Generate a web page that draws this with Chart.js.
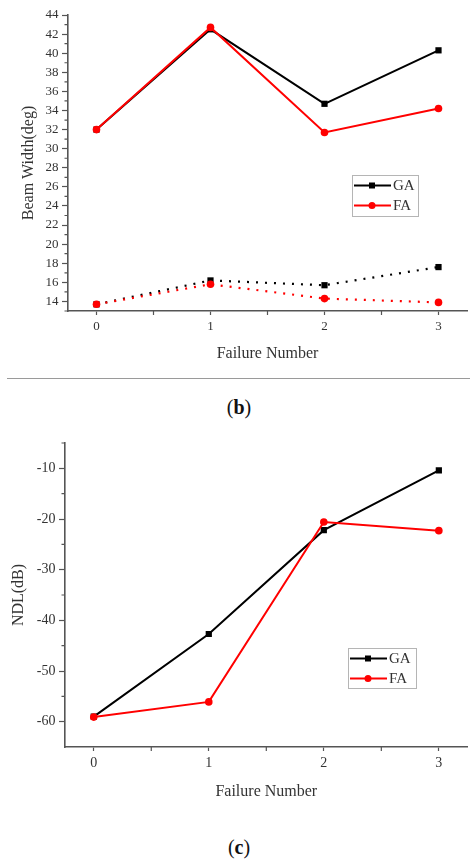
<!DOCTYPE html>
<html>
<head>
<meta charset="utf-8">
<script src="https://cdn.jsdelivr.net/npm/chart.js@4.4.1/dist/chart.umd.min.js"></script>
<style>
  body { margin: 0; background: #fff; width: 472px; height: 863px; position: relative; overflow: hidden; font-family: "Liberation Serif", serif; }
  .box { position: absolute; left: 0; width: 472px; }
  #boxB { top: 0; height: 370px; }
  #boxC { top: 425px; height: 390px; }
  .rule { position: absolute; left: 7px; width: 463px; top: 378px; border-top: 1px solid #9a9a9a; }
  .cap { position: absolute; left: 3px; width: 472px; text-align: center; font-size: 20px; color: #111; }
</style>
</head>
<body>
<div class="box" id="boxB"><canvas id="chartB"></canvas></div>
<div class="rule"></div>
<div class="cap" style="top:396px">(<b>b</b>)</div>
<div class="box" id="boxC"><canvas id="chartC"></canvas></div>
<div class="cap" style="top:836px">(<b>c</b>)</div>
<script>
// values
const failureNumbers = [0, 1, 2, 3];

// (b) beam width, deg
const beamGA = [32.0, 42.5, 34.7, 40.3];
const beamFA = [32.0, 42.7, 31.7, 34.2];
const beamGADotted = [13.7, 16.2, 15.7, 17.6];
const beamFADotted = [13.7, 15.8, 14.3, 13.9];
const beamTickLabels = [14, 16, 18, 20, 22, 24, 26, 28, 30, 32, 34, 36, 38, 40, 42, 44];

// (c) NDL, dB
const ndlGA = [-59.0, -42.7, -22.2, -10.4];
const ndlFA = [-59.1, -56.1, -20.6, -22.3];
const ndlTickLabels = [-60, -50, -40, -30, -20, -10];

const xTickLabels = [0, 1, 2, 3];

const axisGray = '#555';
const textGray = '#333';
const serif = '"Liberation Serif", "Times New Roman", serif';

function pts(ys) {
  return failureNumbers.map((x, i) => ({ x: x, y: ys[i] }));
}

// minor ticks halfway between each pair of majors
function minorsOf(majors) {
  const out = [];
  for (let i = 0; i < majors.length - 1; i++) out.push((majors[i] + majors[i + 1]) / 2);
  return out;
}

function series(label, data, color, style, dotted, order) {
  return {
    label: label,
    data: pts(data),
    borderColor: color,
    backgroundColor: color,
    borderWidth: dotted ? 2.2 : 2,
    borderDash: dotted ? [2, 7] : [],
    pointStyle: style,
    pointRadius: style === 'rect' ? 4.4 : 3.8,
    pointBorderWidth: 0,
    showInLegend: !dotted,
    order: order,
    tension: 0
  };
}

// short outward minor ticks on both axes
const minorTicks = {
  id: 'minorTicks',
  afterDraw(chart, args, opts) {
    const ctx = chart.ctx;
    const xs = chart.scales.x, ys = chart.scales.y;
    ctx.save();
    ctx.strokeStyle = axisGray;
    ctx.lineWidth = 1.2;
    ctx.beginPath();
    opts.x.forEach(v => {
      const px = xs.getPixelForValue(v);
      ctx.moveTo(px, xs.top);
      ctx.lineTo(px, xs.top + 4);
    });
    opts.y.forEach(v => {
      const py = ys.getPixelForValue(v);
      ctx.moveTo(ys.right, py);
      ctx.lineTo(ys.right - 3.5, py);
    });
    ctx.stroke();
    ctx.restore();
  }
};

const boxLegend = {
  id: 'boxLegend',
  afterDatasetsDraw(chart, args, opts) {
    const ctx = chart.ctx;
    const items = chart.data.datasets.filter(d => d.showInLegend);
    ctx.save();
    ctx.fillStyle = '#fff';
    ctx.fillRect(opts.x, opts.y, opts.w, opts.h);
    ctx.strokeStyle = '#b5b5b5';
    ctx.lineWidth = 1;
    ctx.strokeRect(opts.x + 0.5, opts.y + 0.5, opts.w, opts.h);
    items.forEach((d, i) => {
      const y = opts.y + 10.5 + i * 20;
      ctx.strokeStyle = d.borderColor;
      ctx.lineWidth = 2;
      ctx.beginPath();
      ctx.moveTo(opts.x + 2, y);
      ctx.lineTo(opts.x + 39, y);
      ctx.stroke();
      ctx.fillStyle = d.borderColor;
      if (d.pointStyle === 'rect') {
        ctx.fillRect(opts.x + 17, y - 3, 6, 6);
      } else {
        ctx.beginPath();
        ctx.arc(opts.x + 20, y, 3.5, 0, Math.PI * 2);
        ctx.fill();
      }
      ctx.fillStyle = textGray;
      ctx.font = '15px ' + serif;
      ctx.textBaseline = 'middle';
      ctx.fillText(d.label, opts.x + 41, y + 1);
    });
    ctx.restore();
  }
};

function makeChart(id, cfg) {
  return new Chart(document.getElementById(id), {
    type: 'line',
    data: { datasets: cfg.datasets },
    plugins: [boxLegend, minorTicks],
    options: {
      responsive: true,
      maintainAspectRatio: false,
      animation: false,
      layout: { padding: { left: 0, right: cfg.padRight, top: cfg.padTop, bottom: 0 } },
      plugins: {
        legend: { display: false },
        tooltip: { enabled: false },
        boxLegend: cfg.legend,
        minorTicks: { x: minorsOf(xTickLabels), y: cfg.yMinors }
      },
      scales: {
        x: {
          type: 'linear',
          min: -0.25,
          max: 3.25,
          afterBuildTicks: s => { s.ticks = xTickLabels.map(v => ({ value: v })); },
          afterFit: s => { s.height = cfg.xHeight; },
          ticks: {
            autoSkip: false,
            maxRotation: 0,
            padding: 4,
            color: textGray,
            font: { family: serif, size: cfg.tickSize }
          },
          grid: { drawOnChartArea: false, drawTicks: true, tickLength: 4, tickColor: axisGray, tickWidth: 1.2 },
          border: { display: true, color: axisGray, width: 1.6 },
          title: {
            display: true,
            text: 'Failure Number',
            color: textGray,
            font: { family: serif, size: 16 },
            padding: { top: 0, bottom: cfg.xTitlePad }
          }
        },
        y: {
          type: 'linear',
          min: cfg.yMin,
          max: cfg.yMax,
          afterBuildTicks: s => { s.ticks = cfg.yLabels.map(v => ({ value: v })); },
          afterFit: s => { s.width = cfg.yWidth; },
          ticks: {
            autoSkip: false,
            padding: 3.5,
            color: textGray,
            font: { family: serif, size: cfg.tickSize }
          },
          grid: { drawOnChartArea: false, drawTicks: true, tickLength: 6, tickColor: axisGray, tickWidth: 1.2 },
          border: { display: true, color: axisGray, width: 1.6 },
          title: {
            display: true,
            text: cfg.yTitle,
            color: textGray,
            font: { family: serif, size: 16 },
            padding: { top: cfg.yTitlePad, bottom: 0 }
          }
        }
      }
    }
  });
}

makeChart('chartB', {
  datasets: [
    series('GA', beamGA, '#000000', 'rect', false, 3),
    series('FA', beamFA, '#ff0000', 'circle', false, 2),
    series('GA', beamGADotted, '#000000', 'rect', true, 1),
    series('FA', beamFADotted, '#ff0000', 'circle', true, 0)
  ],
  yMin: 13, yMax: 44, yLabels: beamTickLabels, yMinors: [13].concat(minorsOf(beamTickLabels)),
  yTitle: 'Beam Width(deg)',
  tickSize: 13,
  padTop: 15, padRight: 5,
  xHeight: 59, xTitlePad: 7,
  yWidth: 68, yTitlePad: 19,
  legend: { x: 352, y: 175, w: 66, h: 41 }
});

makeChart('chartC', {
  datasets: [
    series('GA', ndlGA, '#000000', 'rect', false, 1),
    series('FA', ndlFA, '#ff0000', 'circle', false, 0)
  ],
  yMin: -65, yMax: -5, yLabels: ndlTickLabels, yMinors: minorsOf(ndlTickLabels).concat([-5]),
  yTitle: 'NDL(dB)',
  tickSize: 14,
  padTop: 18, padRight: 1,
  xHeight: 68, xTitlePad: 14,
  yWidth: 65, yTitlePad: 9,
  legend: { x: 348, y: 223, w: 68, h: 40 }
});
</script>
</body>
</html>
